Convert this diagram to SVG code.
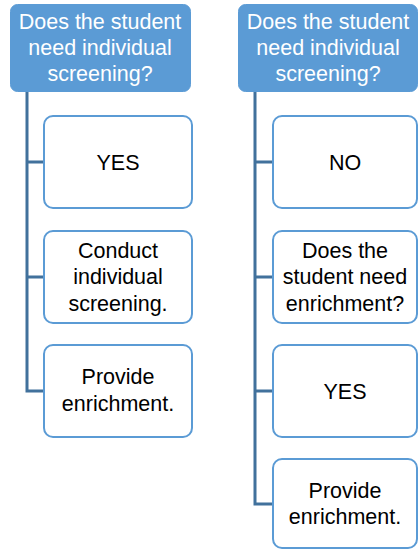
<svg xmlns="http://www.w3.org/2000/svg" width="419" height="550" viewBox="0 0 419 550">
<style>
.hdr{fill:#5B9BD5;stroke:#5B9BD5;stroke-width:1}
.box{fill:#fff;stroke:#5B9BD5;stroke-width:2}
.ht{font-family:"Liberation Sans",Arial,sans-serif;font-size:21.5px;fill:#fff;text-anchor:middle}
.bt{font-family:"Liberation Sans",Arial,sans-serif;font-size:21.5px;fill:#000;text-anchor:middle}
.con{fill:none;stroke:#41719C;stroke-width:3}
</style>
<rect width="419" height="550" fill="#fff"/>
<g id="connectors">
<path class="con" d="M27,92 V391 H45 M27,162 H45 M27,277 H45"/>
<path class="con" d="M255,92 V504 H274 M255,162 H274 M255,277 H274 M255,391 H274"/>
</g>
<g id="hdrL"><rect class="hdr" x="10.5" y="4.5" width="180" height="87" rx="7"/>
<text class="ht" x="100" y="29">Does the student</text><text class="ht" x="100" y="55">need individual</text><text class="ht" x="100" y="81">screening?</text></g>
<g id="yesL"><rect class="box" x="44" y="116" width="148" height="92" rx="9"/><text class="bt" x="118" y="170">YES</text></g>
<g id="conduct"><rect class="box" x="44" y="231" width="148" height="92" rx="9"/>
<text class="bt" x="118" y="258">Conduct</text><text class="bt" x="118" y="284">individual</text><text class="bt" x="118" y="311">screening.</text></g>
<g id="provL"><rect class="box" x="44" y="345" width="148" height="92" rx="9"/>
<text class="bt" x="118" y="384">Provide</text><text class="bt" x="118" y="411">enrichment.</text></g>
<g id="hdrR"><rect class="hdr" x="238.5" y="4.5" width="179" height="87" rx="7"/>
<text class="ht" x="328" y="29">Does the student</text><text class="ht" x="328" y="55">need individual</text><text class="ht" x="328" y="81">screening?</text></g>
<g id="noR"><rect class="box" x="273" y="116" width="144" height="92" rx="9"/><text class="bt" x="345" y="170">NO</text></g>
<g id="enrichQ"><rect class="box" x="273" y="231" width="144" height="92" rx="9"/>
<text class="bt" x="345" y="258">Does the</text><text class="bt" x="345" y="284">student need</text><text class="bt" x="345" y="311">enrichment?</text></g>
<g id="yesR"><rect class="box" x="273" y="345" width="144" height="92" rx="9"/><text class="bt" x="345" y="399">YES</text></g>
<g id="provR"><rect class="box" x="273" y="459" width="144" height="89" rx="9"/>
<text class="bt" x="345" y="498">Provide</text><text class="bt" x="345" y="524">enrichment.</text></g>
</svg>
